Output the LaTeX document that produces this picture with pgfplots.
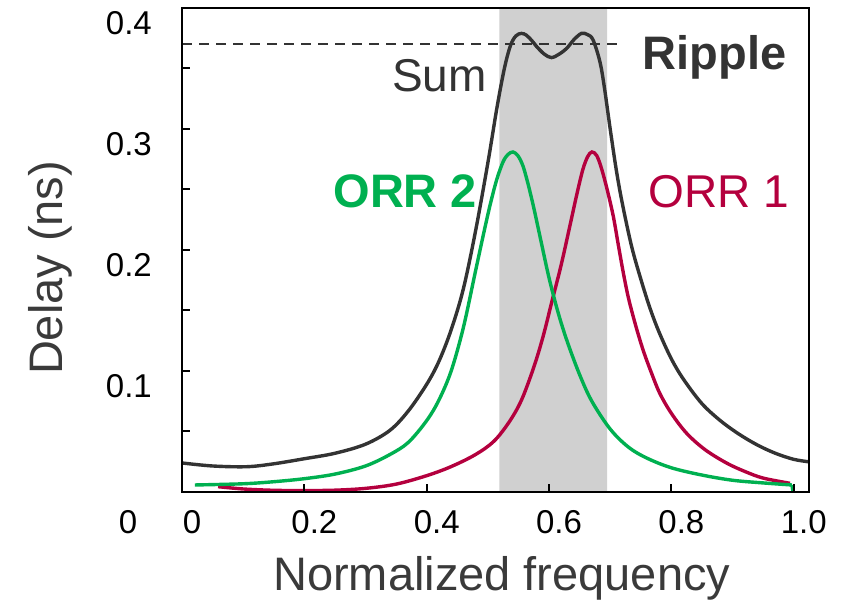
\documentclass[border=0pt]{standalone}
\usepackage{pgfplots}
\pgfplotsset{compat=1.18}
\usepackage{fontspec}
\setmainfont{Liberation Sans}
\definecolor{sumc}{RGB}{51,51,51}
\definecolor{orrtwo}{RGB}{0,176,80}
\definecolor{orrone}{RGB}{180,0,62}
\definecolor{band}{RGB}{208,208,208}
\definecolor{labc}{RGB}{58,58,58}
\begin{document}
\begin{tikzpicture}
\useasboundingbox (0,0) rectangle (848pt,604pt);
\begin{axis}[
  at={(182pt,112pt)}, anchor=south west,
  scale only axis, width=627pt, height=484pt,
  xmin=0, xmax=1.025, ymin=0, ymax=0.4,
  axis on top,
  axis line style={black, line width=2.2pt},
  tick pos=left, tick align=inside,
  major tick length=8pt, minor tick length=8pt,
  tick style={black, line width=2pt},
  minor tick style={black, line width=2pt},
  xtick={0,0.2,0.4,0.6,0.8,1.0}, xticklabels={0,0.2,0.4,0.6,0.8,1.0},
  ytick={0,0.1,0.2,0.3,0.4}, yticklabels={,0.1,0.2,0.3,0.4},
  minor ytick={0.05,0.15,0.25,0.35},
  /pgf/number format/assume math mode=true,
  xticklabel style={anchor=north, inner sep=0pt, yshift=-18pt, xshift=10pt, font=\fontsize{33}{36}\selectfont},
  yticklabel style={anchor=east, inner sep=0pt, xshift=-30pt, yshift=-15pt, font=\fontsize{33}{36}\selectfont},
  xlabel={Normalized frequency}, ylabel={Delay (ns)},
  xlabel style={at={(axis description cs:0.51,-0.2025)}, anchor=base, inner sep=0pt, font=\fontsize{47}{50}\selectfont, text=labc},
  ylabel style={at={(axis description cs:-0.19,0.463)}, anchor=base, inner sep=0pt, font=\fontsize{47}{50}\selectfont, text=labc},
]
% pass band
\addplot[fill=band, draw=none] coordinates {(0.519,0) (0.519,0.4) (0.695,0.4) (0.695,0)} \closedcycle;
% ripple reference line
\addplot[sumc, line width=2pt, dash pattern=on 10pt off 7pt] coordinates {(0,0.370) (0.719,0.370)};
% ORR 1
\addplot[orrone, line width=3.4pt, smooth, tension=0.55] coordinates {
(0.059,0.0044) (0.10,0.0025) (0.15,0.0014) (0.20,0.0012) (0.25,0.0015) (0.30,0.003) (0.35,0.0065) (0.40,0.0135) (0.44,0.021) (0.48,0.031) (0.51,0.042) (0.535,0.058) (0.555,0.076) (0.575,0.103) (0.59,0.128) (0.605,0.158) (0.62,0.188) (0.635,0.222) (0.645,0.245) (0.655,0.266) (0.663,0.277) (0.670,0.281) (0.678,0.278) (0.686,0.267) (0.695,0.250) (0.705,0.228) (0.713,0.205) (0.7215,0.181) (0.73,0.160) (0.742,0.137) (0.754,0.117) (0.767,0.099) (0.781,0.0816) (0.80,0.065) (0.825,0.0485) (0.855,0.035) (0.89,0.024) (0.92,0.017) (0.95,0.0115) (0.994,0.0072)};
% ORR 2
\addplot[orrtwo, line width=3.4pt, smooth, tension=0.55] coordinates {
(0.021,0.0058) (0.10,0.0068) (0.15,0.0085) (0.20,0.011) (0.25,0.0148) (0.30,0.0215) (0.34,0.031) (0.37,0.041) (0.40,0.059) (0.42,0.076) (0.44,0.100) (0.46,0.136) (0.48,0.183) (0.495,0.218) (0.505,0.240) (0.515,0.259) (0.525,0.273) (0.533,0.279) (0.541,0.281) (0.549,0.278) (0.557,0.270) (0.565,0.256) (0.575,0.235) (0.587,0.207) (0.600,0.177) (0.615,0.148) (0.63,0.124) (0.65,0.097) (0.67,0.075) (0.70,0.052) (0.73,0.037) (0.76,0.028) (0.80,0.020) (0.85,0.014) (0.90,0.0097) (0.95,0.0075) (0.997,0.0058)};
\addplot[orrtwo, line width=3.4pt] coordinates {(0.997,0.0058) (0.999,0.0)};
% Sum
\addplot[sumc, line width=3.4pt, smooth, tension=0.55] coordinates {
(0,0.024) (0.05,0.0215) (0.106,0.0209) (0.15,0.0233) (0.20,0.0275) (0.25,0.032) (0.30,0.0395) (0.34,0.051) (0.37,0.067) (0.40,0.089) (0.42,0.108) (0.44,0.134) (0.46,0.168) (0.48,0.216) (0.50,0.272) (0.515,0.318) (0.527,0.350) (0.537,0.369) (0.546,0.377) (0.555,0.379) (0.563,0.3775) (0.572,0.373) (0.580,0.368) (0.592,0.362) (0.604,0.359) (0.617,0.362) (0.629,0.3667) (0.641,0.374) (0.653,0.379) (0.663,0.378) (0.672,0.3736) (0.683,0.356) (0.690,0.336) (0.700,0.300) (0.710,0.266) (0.720,0.238) (0.735,0.203) (0.750,0.176) (0.765,0.152) (0.78,0.132) (0.80,0.110) (0.82,0.093) (0.85,0.073) (0.88,0.059) (0.91,0.048) (0.94,0.039) (0.97,0.032) (1.0,0.027) (1.024,0.025)};
\node[anchor=base, inner sep=0pt, text=sumc, font=\fontsize{46}{50}\selectfont] at (axis cs:0.421,0.331) {Sum};
\node[anchor=base, inner sep=0pt, text=sumc, font=\fontsize{47}{50}\selectfont\bfseries] at (axis cs:0.871,0.349) {Ripple};
\node[anchor=base, inner sep=0pt, text=orrtwo, font=\fontsize{47}{50}\selectfont\bfseries] at (axis cs:0.365,0.2355) {ORR 2};
\node[anchor=base, inner sep=0pt, text=orrone, font=\fontsize{46}{50}\selectfont] at (axis cs:0.878,0.2355) {ORR 1};
\end{axis}
\node[inner sep=0pt, font=\fontsize{33}{36}\selectfont] at (128pt,82pt) {0};
\end{tikzpicture}
\end{document}
